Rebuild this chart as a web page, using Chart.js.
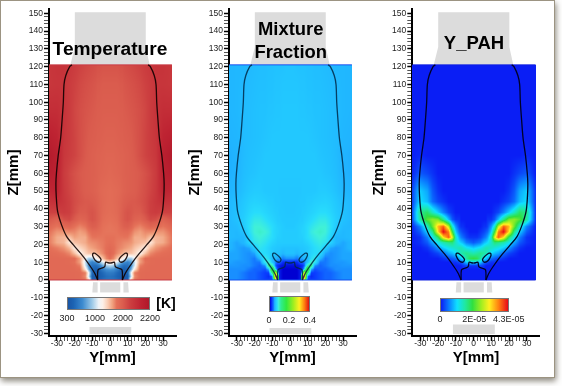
<!DOCTYPE html>
<html>
<head>
<meta charset="utf-8">
<script src="https://cdn.jsdelivr.net/npm/chart.js@4"></script>
<style>
  html, body { margin: 0; padding: 0; background: #fff; width: 562px; height: 386px; overflow: hidden; }
  body { position: relative; font-family: "Liberation Sans", Arial, sans-serif; }
  #frame { position: absolute; left: 0; top: 0; width: 553px; height: 376px; background: #fff;
           border: 1px solid #9c9482; box-shadow: 1px 3px 6px rgba(90,84,70,.7); }
  canvas { position: absolute; top: 0; }
  .title { position: absolute; font-weight: bold; color: #000; transform: translate(-50%,-50%); white-space: nowrap; line-height: 1; }
  .bar { position: absolute; box-sizing: border-box; border: 1px solid #777; }
  .lab { position: absolute; font-size: 9px; color: #222; transform: translate(-50%,-50%); white-space: nowrap; line-height: 1; }
</style>
</head>
<body>
<div id="frame"></div>
<script>
// ---------- Grid the fields are sampled on (half plane, mirrored in Y) ----------
const yCols = [0, 2, 4, 6, 7, 8, 10, 12, 14, 17, 20, 23, 26, 30, 35];
const zRows = [0, 2, 4, 6, 8, 10, 12, 15, 18, 21, 24, 27, 30, 34, 38, 44, 50, 60, 70, 80, 95, 110, 121];

// Temperature [K]
const tempField = [
  [480,470,440,380,360,350,400,1250,1680,1740,1750,1750,1750,1750,1750],
  [470,450,400,350,340,340,360,900,1600,1740,1750,1750,1750,1750,1750],
  [520,500,430,360,350,340,420,1000,1650,1740,1750,1750,1750,1750,1750],
  [640,620,530,420,380,370,420,700,1150,1720,1740,1750,1750,1750,1750],
  [850,800,680,540,480,440,460,600,950,1650,1730,1750,1750,1750,1750],
  [1250,1150,950,750,680,620,560,650,900,1500,1700,1740,1750,1750,1750],
  [1720,1600,1350,1200,1100,1000,800,800,1000,1500,1740,1740,1750,1750,1750],
  [1780,1720,1600,1500,1450,1380,1350,1350,1250,1050,1350,1600,1680,1720,1740],
  [1750,1720,1650,1600,1580,1550,1500,1450,1350,1250,1100,1400,1550,1650,1720],
  [1720,1700,1660,1640,1620,1600,1580,1550,1450,1400,1350,1150,1400,1450,1680],
  [1700,1700,1680,1680,1680,1690,1680,1600,1450,1450,1500,1350,1400,1450,1680],
  [1680,1680,1690,1720,1730,1740,1740,1680,1560,1500,1600,1600,1550,1550,1720],
  [1680,1690,1700,1760,1790,1820,1830,1780,1680,1620,1700,1780,1750,1680,1780],
  [1700,1710,1730,1800,1830,1860,1880,1860,1800,1780,1850,1920,1900,1800,1880],
  [1720,1730,1750,1800,1830,1860,1880,1870,1850,1850,1900,1960,1980,1950,1950],
  [1730,1740,1760,1790,1810,1830,1850,1860,1860,1880,1910,1960,2000,2040,2020],
  [1730,1740,1750,1770,1790,1800,1820,1830,1840,1870,1900,1940,1990,2100,2080],
  [1760,1770,1780,1790,1800,1810,1820,1830,1840,1860,1890,1930,1980,2120,2150],
  [1780,1780,1790,1800,1800,1810,1820,1840,1860,1900,1940,1970,2000,2130,2180],
  [1800,1800,1810,1820,1820,1830,1840,1850,1870,1900,1940,1980,2010,2100,2130],
  [1830,1830,1830,1840,1840,1850,1860,1870,1880,1900,1930,1980,2020,2050,2050],
  [1850,1850,1850,1860,1860,1870,1880,1890,1900,1920,1950,1980,2010,2010,2000],
  [1880,1880,1880,1890,1890,1900,1910,1920,1930,1950,1980,2000,2020,2020,2000]
];

// Mixture fraction
const mixField = [
  [0,0,0,.01,.38,.28,.02,.02,.02,.025,.03,.03,.035,.04,.04],
  [0,0,0,.01,.30,.38,.03,.015,.02,.025,.03,.03,.035,.04,.04],
  [0,0,0,.01,.08,.30,.12,.02,.02,.025,.03,.03,.035,.04,.04],
  [0,0,0,.01,.02,.05,.2,.05,.025,.03,.03,.035,.04,.04,.04],
  [.005,.005,.005,.01,.015,.025,.1,.12,.04,.03,.035,.04,.04,.042,.042],
  [.015,.015,.015,.03,.03,.035,.055,.09,.08,.035,.035,.04,.042,.042,.045],
  [.04,.04,.035,.045,.045,.05,.05,.07,.08,.05,.035,.04,.042,.045,.045],
  [.055,.055,.05,.055,.055,.055,.06,.065,.07,.07,.045,.04,.042,.045,.045],
  [.055,.055,.055,.057,.057,.058,.06,.065,.07,.075,.06,.045,.042,.045,.05],
  [.06,.06,.06,.06,.06,.062,.065,.07,.075,.08,.075,.065,.05,.045,.05],
  [.06,.06,.06,.062,.062,.065,.07,.075,.08,.085,.08,.065,.05,.05,.052],
  [.06,.06,.06,.062,.065,.065,.07,.08,.085,.09,.085,.07,.055,.05,.052],
  [.058,.058,.06,.062,.063,.065,.07,.075,.08,.085,.085,.072,.06,.052,.05],
  [.058,.058,.058,.06,.06,.062,.065,.068,.072,.078,.078,.07,.062,.055,.05],
  [.057,.057,.058,.058,.06,.06,.062,.064,.066,.07,.07,.066,.06,.055,.05],
  [.057,.057,.057,.058,.058,.058,.06,.06,.062,.063,.064,.062,.058,.053,.05],
  [.057,.057,.057,.057,.058,.058,.058,.058,.058,.06,.06,.058,.055,.05,.048],
  [.058,.058,.058,.058,.058,.058,.058,.058,.058,.058,.056,.055,.053,.048,.047],
  [.058,.058,.058,.058,.058,.058,.058,.058,.058,.056,.055,.054,.052,.048,.047],
  [.058,.058,.058,.058,.058,.058,.058,.057,.056,.055,.054,.053,.052,.049,.048],
  [.058,.058,.058,.057,.057,.057,.056,.056,.055,.055,.054,.053,.052,.05,.049],
  [.057,.057,.057,.056,.056,.056,.055,.055,.054,.054,.053,.052,.051,.05,.049],
  [.056,.056,.055,.055,.055,.055,.054,.054,.053,.053,.052,.051,.05,.05,.049]
];

// Y_PAH, in units of 1E-05
const pahField = [
  [0,0,0,0,0,0,0,0,0,0,0,0,0,0,0],
  [0,0,0,0,0,0,0,0,0,0,0,0,0,0,0],
  [0,0,0,0,0,0,0,0,0,0,0,0,0,0,0],
  [0,0,0,0,0,0,0,0,0,0,0,0,0,0,0],
  [.1,.1,.2,.1,0,0,0,0,0,0,0,0,0,0,0],
  [1,1,.9,.4,.3,.2,.1,.1,0,0,0,0,0,0,0],
  [2,1.9,1.5,1,.9,.7,.4,.3,.2,.1,0,0,0,0,0],
  [1.4,1.5,1.6,1.5,1.4,1.3,1,.8,.7,.4,.2,.1,0,0,0],
  [.9,1,1.1,1.3,1.4,1.4,1.3,1.2,1.1,.9,.6,.3,.1,0,0],
  [.3,.4,.5,.8,.9,1,1.3,1.7,1.6,1.4,1.1,.7,.3,.1,0],
  [.1,.1,.2,.4,.5,.7,1.3,3,3.9,3.2,1.8,1.1,.5,.1,0],
  [0,0,.1,.2,.3,.4,.9,2.1,3.7,4.3,3.2,1.6,.9,.3,0],
  [0,0,0,.1,.1,.2,.6,1.3,2.8,3.9,3.4,2.3,1.3,.5,0],
  [0,0,0,0,0,.1,.1,.3,.8,1.6,2.4,2.5,2.2,1.5,.1],
  [0,0,0,0,0,0,0,.1,.2,.5,.9,1.3,1.8,1.6,.1],
  [0,0,0,0,0,0,0,0,0,.1,.2,.4,.8,1,.1],
  [0,0,0,0,0,0,0,0,0,0,.1,.3,.7,.9,.1],
  [0,0,0,0,0,0,0,0,0,0,0,.1,.2,.3,0],
  [0,0,0,0,0,0,0,0,0,0,0,0,0,.05,0],
  [0,0,0,0,0,0,0,0,0,0,0,0,0,0,0],
  [0,0,0,0,0,0,0,0,0,0,0,0,0,0,0],
  [0,0,0,0,0,0,0,0,0,0,0,0,0,0,0],
  [0,0,0,0,0,0,0,0,0,0,0,0,0,0,0]
];

// ---------- Colour maps: [value, colour] plus where each stop sits on the bar ----------
const tempStops = [[300,'#1955a5'],[400,'#1c64b4'],[600,'#3d8bd0'],[800,'#a0cbe8'],[1000,'#f0f4f8'],[1100,'#fcf0e8'],[1300,'#facdb4'],[1500,'#f0a07d'],[1700,'#e47058'],[1850,'#da5c4e'],[1950,'#cd4141'],[2100,'#be2332'],[2200,'#b0182a']];
const tempBarPos = [0,.07,.18,.3,.38,.43,.49,.55,.6,.68,.76,.9,1];
const mixStops = [[0,'#0000d2'],[.02,'#0a3cff'],[.035,'#1478ff'],[.048,'#20b4ff'],[.058,'#22c8ff'],[.07,'#28dcfc'],[.085,'#40f0d8'],[.11,'#30ec90'],[.17,'#30e840'],[.24,'#a0ee20'],[.3,'#fff020'],[.35,'#ff8010'],[.4,'#e01010']];
const mixBarPos = [0,.05,.09,.12,.15,.18,.22,.28,.42,.6,.75,.88,1];
const pahStops = [[0,'#0a1ef5'],[.5,'#0a80ff'],[1,'#10e0ff'],[1.5,'#20e8a0'],[2,'#30e040'],[2.6,'#a0ee20'],[3.1,'#fff020'],[3.7,'#ff8010'],[4.3,'#e80818']];
const pahBarPos = [0,.12,.24,.36,.47,.6,.72,.86,1];

// ---------- Flame contour, burner outline, ticks (mm, half plane) ----------
const outerLine = [[7,0],[8.5,3.5],[10.4,6.6],[15,13],[20.7,19.7],[24.5,24.4],[27.4,31],[29.6,38.4],[30.4,47],[30.6,54],[30.3,60],[29.3,70],[27.9,80],[27.1,90],[26.4,100],[26,110],[25,115],[22.8,120],[21.5,121]];
const capLine = [[7,0],[6.8,5.6],[5,6.6],[3,7.5],[2.5,10],[1.2,9.7],[0,9.5]];
const islandLine = [[9.8,15],[8.5,15],[5.1,11.6],[6,10],[8.3,11],[9.8,13.6],[9.8,15]];

const nozzleTop = [[-19.9,150.6],[20.2,150.6],[20.2,131],[22.4,121],[-22.4,121],[-19.9,131]];
const burnerMid = [[-5.6,-1.3],[5.8,-1.3],[5.8,-7],[-5.6,-7]];
const burnerLeft = [[-9.6,-1.3],[-7,-1.3],[-7,-7],[-10,-7]];
const burnerRight = [[7.6,-1.3],[10.2,-1.3],[10.6,-7],[7.6,-7]];
const baseBoxes = [[[-11.6,-26.4],[12,-26.4],[12,-30.4],[-11.6,-30.4]],
                   [[-11.6,-27],[12,-27],[12,-30.4],[-11.6,-30.4]],
                   [[-11.6,-25],[12,-25],[12,-30.4],[-11.6,-30.4]]];

const zTicks = [-30,-20,-10,0,10,20,30,40,50,60,70,80,90,100,110,120,130,140,150];
const yTicks = [-30,-20,-10,0,10,20,30];
const minorStep = 2;

const fieldLeft = -34.5, fieldRight = 35, fieldTop = 121;

const panels = [
  { name: 'temp', left: 0, width: 180, axisW: 49, right: 4, titlePad: 5, field: tempField, stops: tempStops, line: 'rgba(15,0,0,.9)', edge: '#c83c46' },
  { name: 'mix', left: 181, width: 180, axisW: 48, right: 5, titlePad: 5, field: mixField, stops: mixStops, line: 'rgba(0,40,70,.85)', edge: '#1450f0' },
  { name: 'pah', left: 362, width: 182, axisW: 50.3, right: 4.3, titlePad: 8, field: pahField, stops: pahStops, line: 'rgba(0,0,30,.95)', edge: '#1020e0' }
];

// ---------- Helpers ----------
function hexRgb(h) { return [1, 3, 5].map(i => parseInt(h.substr(i, 2), 16)); }

function colorAt(stops, v) {
  if (v <= stops[0][0]) return hexRgb(stops[0][1]);
  for (let i = 1; i < stops.length; i++) {
    if (v <= stops[i][0]) {
      const t = (v - stops[i - 1][0]) / (stops[i][0] - stops[i - 1][0]);
      const a = hexRgb(stops[i - 1][1]), b = hexRgb(stops[i][1]);
      return a.map((c, k) => c + (b[k] - c) * t);
    }
  }
  return hexRgb(stops[stops.length - 1][1]);
}

function bracket(list, v) {
  let i = 0;
  while (i < list.length - 2 && v > list[i + 1]) i++;
  return [i, Math.min(1, Math.max(0, (v - list[i]) / (list[i + 1] - list[i])))];
}

function sampleField(field, y, z) {
  const [c, tc] = bracket(yCols, Math.abs(y));
  const [r, tr] = bracket(zRows, z);
  const low = field[r][c] + (field[r][c + 1] - field[r][c]) * tc;
  const high = field[r + 1][c] + (field[r + 1][c + 1] - field[r + 1][c]) * tc;
  return low + (high - low) * tr;
}

function fillPoly(ctx, sx, sz, pts, color) {
  ctx.fillStyle = color;
  ctx.beginPath();
  pts.forEach((p, i) => {
    const x = sx.getPixelForValue(p[0]), y = sz.getPixelForValue(p[1]);
    i ? ctx.lineTo(x, y) : ctx.moveTo(x, y);
  });
  ctx.closePath();
  ctx.fill();
}

const mirror = pts => pts.map(p => ({ x: -p[0], y: p[1] }));
const plain = pts => pts.map(p => ({ x: p[0], y: p[1] }));

function contourSet(data, color) {
  return { data, showLine: true, pointRadius: 0, borderColor: color, borderWidth: 1.3, tension: 0.3 };
}

function stepTicks(list) {
  const out = [];
  for (let v = list[0]; v <= list[list.length - 1]; v += minorStep) out.push({ value: v });
  return out;
}

// ---------- Plugin: burner shapes and the field, painted through the chart scales ----------
const fieldPlugin = {
  id: 'field',
  beforeDatasetsDraw(chart, args, opts) {
    const { ctx, scales: { x: sx, y: sz } } = chart;
    [nozzleTop, burnerMid, burnerLeft, burnerRight, baseBoxes[opts.index]].forEach(p => fillPoly(ctx, sx, sz, p, '#dcdcdc'));

    const x0 = Math.round(sx.getPixelForValue(fieldLeft)), x1 = Math.round(sx.getPixelForValue(fieldRight));
    const y0 = Math.round(sz.getPixelForValue(fieldTop)), y1 = Math.round(sz.getPixelForValue(0));
    const off = document.createElement('canvas');
    off.width = x1 - x0; off.height = y1 - y0;
    const octx = off.getContext('2d');
    const img = octx.createImageData(off.width, off.height);
    for (let j = 0; j < off.height; j++) {
      const z = sz.getValueForPixel(y0 + j + 0.5);
      for (let i = 0; i < off.width; i++) {
        const y = sx.getValueForPixel(x0 + i + 0.5);
        const c = colorAt(opts.stops, sampleField(opts.field, y, z));
        const k = (j * off.width + i) * 4;
        img.data[k] = c[0]; img.data[k + 1] = c[1]; img.data[k + 2] = c[2]; img.data[k + 3] = 255;
      }
    }
    octx.putImageData(img, 0, 0);
    ctx.drawImage(off, x0, y0);
  }
};

// ---------- Create the three charts ----------
panels.forEach((p, index) => {
  const canvas = document.createElement('canvas');
  canvas.width = p.width; canvas.height = 386;
  canvas.style.left = p.left + 'px';
  document.body.appendChild(canvas);

  const isMajor = v => v % 10 === 0;
  const tickFont = { family: '"Liberation Sans"', size: 8.5 };
  const titleFont = { family: '"Liberation Sans"', size: 15, weight: 'bold', lineHeight: 1.2 };

  new Chart(canvas, {
    type: 'scatter',
    data: {
      datasets: [
        contourSet(plain(outerLine), p.line),
        contourSet(mirror(outerLine), p.line),
        contourSet(plain(capLine), p.line),
        contourSet(mirror(capLine), p.line),
        contourSet(plain(islandLine), p.line),
        contourSet(mirror(islandLine), p.line),
        { data: [{ x: fieldLeft, y: fieldTop }, { x: fieldRight, y: fieldTop }], showLine: true, pointRadius: 0, borderColor: p.edge, borderWidth: 1 },
        { data: [{ x: fieldLeft, y: 0 }, { x: fieldRight, y: 0 }], showLine: true, pointRadius: 0, borderColor: p.edge, borderWidth: 1 }
      ]
    },
    options: {
      responsive: false,
      animation: false,
      events: [],
      layout: { padding: { left: 0, top: 9, right: p.right, bottom: 0 } },
      plugins: {
        legend: { display: false },
        tooltip: { enabled: false },
        field: { index, field: p.field, stops: p.stops }
      },
      scales: {
        x: {
          type: 'linear', min: -34.5, max: 37.3,
          afterBuildTicks: s => { s.ticks = stepTicks(yTicks); },
          afterFit: s => { s.height = 50; },
          grid: {
            drawOnChartArea: false, tickLength: 5,
            tickColor: c => isMajor(c.tick.value) ? '#000' : '#555',
            tickWidth: c => isMajor(c.tick.value) ? 1.5 : 1
          },
          border: { color: '#000', width: 2 },
          ticks: { autoSkip: false, maxRotation: 0, padding: -2, color: '#222', font: tickFont,
                   callback: v => yTicks.includes(v) ? String(v) : '' },
          title: { display: true, text: 'Y[mm]', color: '#000', font: titleFont, padding: { top: 0, bottom: 19 } }
        },
        y: {
          type: 'linear', min: -31.5, max: 152.4,
          afterBuildTicks: s => { s.ticks = stepTicks(zTicks); },
          afterFit: s => { s.width = p.axisW; },
          grid: {
            drawOnChartArea: false, tickLength: 5,
            tickColor: c => isMajor(c.tick.value) ? '#000' : '#555',
            tickWidth: c => isMajor(c.tick.value) ? 1.5 : 1
          },
          border: { color: '#000', width: 2 },
          ticks: { autoSkip: false, padding: 1, color: '#222', font: tickFont,
                   callback: v => zTicks.includes(v) ? String(v) : '' },
          title: { display: true, text: 'Z[mm]', color: '#000', font: titleFont, padding: { top: p.titlePad, bottom: 0 } }
        }
      }
    },
    plugins: [fieldPlugin]
  });
});

// ---------- Panel titles, colour bars and their labels ----------
const titles = [
  ['Temperature', 110, 48.7, 19.2],
  ['Mixture', 290.7, 29, 18.4],
  ['Fraction', 290.7, 52, 18.4],
  ['Y_PAH', 474, 42.7, 18.5]
];
titles.forEach(([text, x, y, size]) => {
  const d = document.createElement('div');
  d.className = 'title';
  d.textContent = text;
  d.style.cssText = `left:${x}px;top:${y}px;font-size:${size}px`;
  document.body.appendChild(d);
});

const barBoxes = [
  { x: 66.7, y: 296.7, w: 83.6, h: 13.8, stops: tempStops, pos: tempBarPos },
  { x: 269.3, y: 296, w: 41, h: 15.7, stops: mixStops, pos: mixBarPos },
  { x: 440, y: 297.7, w: 69, h: 14, stops: pahStops, pos: pahBarPos }
];
barBoxes.forEach(b => {
  const d = document.createElement('div');
  d.className = 'bar';
  const grad = b.stops.map((s, i) => `${s[1]} ${b.pos[i] * 100}%`).join(',');
  d.style.cssText = `left:${b.x}px;top:${b.y}px;width:${b.w}px;height:${b.h}px;background:linear-gradient(to right,${grad})`;
  document.body.appendChild(d);
});

const barLabels = [
  ['300', 67, 318], ['1000', 95, 318], ['2000', 123, 318], ['2200', 150, 318],
  ['0', 269, 320], ['0.2', 289, 320], ['0.4', 309.7, 320],
  ['0', 440, 319], ['2E-05', 474.3, 319], ['4.3E-05', 508.7, 319]
];
barLabels.forEach(([text, x, y]) => {
  const d = document.createElement('div');
  d.className = 'lab';
  d.textContent = text;
  d.style.cssText = `left:${x}px;top:${y}px`;
  document.body.appendChild(d);
});

const unit = document.createElement('div');
unit.className = 'title';
unit.textContent = '[K]';
unit.style.cssText = 'left:166px;top:303px;font-size:14px';
document.body.appendChild(unit);
</script>
</body>
</html>
